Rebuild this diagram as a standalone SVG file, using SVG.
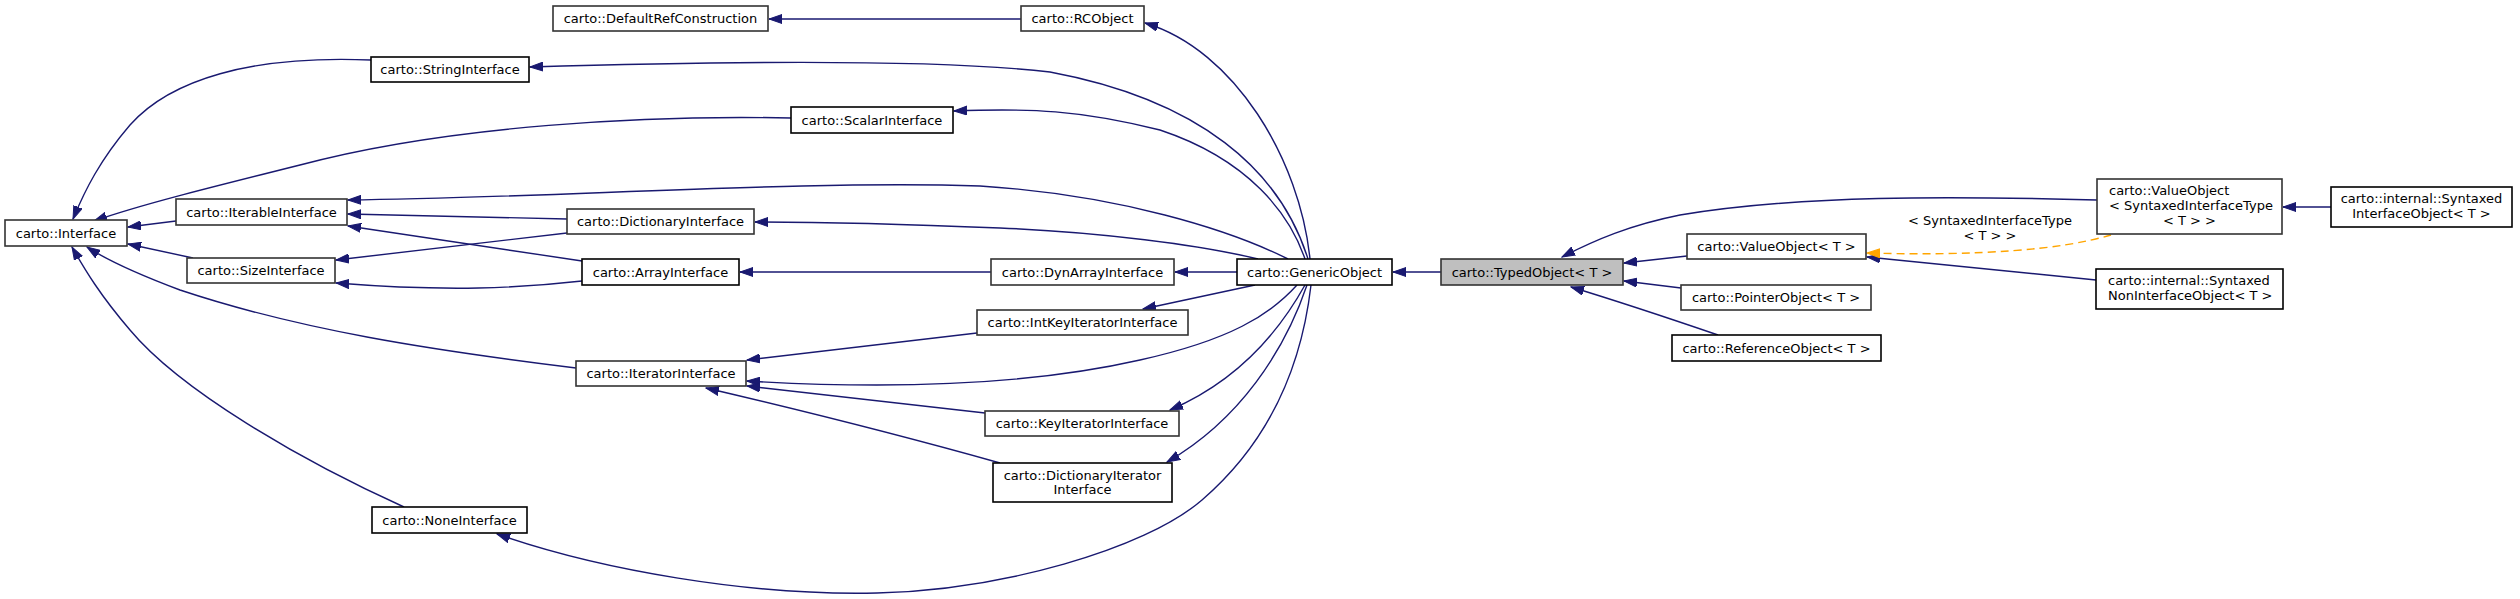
<svg xmlns="http://www.w3.org/2000/svg" width="2520" height="599" viewBox="0 0 2520 599">
<style>
text{font-family:"DejaVu Sans","Liberation Sans",sans-serif;font-size:13px;fill:#000;text-anchor:middle}
text.l{text-anchor:start}
.node rect{fill:#fff;stroke:#000;stroke-width:1.6}
.node.g rect{stroke:#333}
#TypedObject rect{fill:#bfbfbf;stroke:#333}
.edges path{fill:none;stroke:#191970;stroke-width:1.4;marker-end:url(#arr)}
.edges path.tmpl{stroke:#ffa500;stroke-dasharray:8,5;marker-end:url(#arro)}
.lbl{font-size:13px}
</style>
<defs>
<marker id="arr" markerUnits="userSpaceOnUse" markerWidth="14" markerHeight="10" viewBox="0 0 14 10" refX="13" refY="5" orient="auto">
<path d="M0,0.5 L13,5 L0,9.5 z" fill="#191970" stroke="#191970"/>
</marker>
<marker id="arro" markerUnits="userSpaceOnUse" markerWidth="14" markerHeight="10" viewBox="0 0 14 10" refX="13" refY="5" orient="auto">
<path d="M0,0.5 L13,5 L0,9.5 z" fill="#ffa500" stroke="#ffa500"/>
</marker>
</defs>
<rect width="2520" height="599" fill="#fff"/>
<g class="edges">
<path d="M1021,19 H769"/>
<path d="M1310,259 C1300,160 1235,50 1145,23"/>
<path d="M1308,259 C1280,170 1200,100 1050,72 C930,58 700,62 530,67"/>
<path d="M1305,259 C1290,215 1250,160 1160,130 C1080,110 1030,108 954,111"/>
<path d="M1288,259 C1230,230 1120,195 980,186 C800,180 550,198 348,200"/>
<path d="M1258,259 C1200,245 1100,232 1000,228 C900,224 820,222 755,222"/>
<path d="M1237,272 H1175"/>
<path d="M1441,272 H1393"/>
<path d="M1255,285 L1143,309"/>
<path d="M1297,285 C1270,315 1230,340 1140,360 C1030,385 900,390 747,381"/>
<path d="M1305,285 C1280,330 1240,380 1170,410"/>
<path d="M1307,285 C1285,350 1240,420 1167,462"/>
<path d="M1311,285 C1300,380 1260,450 1202,500 C1144,550 1000,590 877,593 C750,596 600,570 497,534"/>
<path d="M371,60 C250,55 170,80 130,125 C100,160 85,190 73,219"/>
<path d="M791,118 C650,115 450,125 300,165 C200,190 140,205 94,221"/>
<path d="M176,221 L128,227"/>
<path d="M193,258 L128,244"/>
<path d="M576,368 C430,350 300,330 180,290 C140,275 110,262 87,247"/>
<path d="M404,507 C300,460 180,390 130,330 C100,295 85,270 72,247"/>
<path d="M567,219 L348,214"/>
<path d="M567,233 L336,260"/>
<path d="M582,261 L348,226"/>
<path d="M582,281 C520,288 450,292 336,283"/>
<path d="M991,272 H740"/>
<path d="M977,333 L747,360"/>
<path d="M985,413 L747,386"/>
<path d="M1000,463 C900,435 800,410 706,388"/>
<path d="M1687,256 L1624,263"/>
<path d="M1681,288 L1624,281"/>
<path d="M1718,335 C1680,322 1630,305 1571,287"/>
<path d="M2097,200 C1950,196 1800,195 1680,215 C1630,225 1595,240 1562,257"/>
<path d="M2331,207 H2283"/>
<path d="M2096,280 L1867,257"/>
<path class="tmpl" d="M2111,235 C2060,250 1980,256 1867,253"/>
<text class="lbl" x="1990" y="225">&lt; SyntaxedInterfaceType</text>
<text class="lbl" x="1990" y="240">&lt; T &gt; &gt;</text>
</g>
<g id="DefaultRefConstruction" class="node g"><rect x="553" y="6" width="215" height="25"/><text x="660.5" y="23">carto::DefaultRefConstruction</text></g>
<g id="RCObject" class="node g"><rect x="1021" y="6" width="123" height="25"/><text x="1082.5" y="23">carto::RCObject</text></g>
<g id="StringInterface" class="node"><rect x="371" y="57" width="158" height="25"/><text x="450" y="74">carto::StringInterface</text></g>
<g id="ScalarInterface" class="node"><rect x="791" y="107" width="162" height="26"/><text x="872" y="124.5">carto::ScalarInterface</text></g>
<g id="IterableInterface" class="node g"><rect x="176" y="199" width="171" height="26"/><text x="261.5" y="216.5">carto::IterableInterface</text></g>
<g id="Interface" class="node g"><rect x="5" y="220" width="122" height="26"/><text x="66" y="237.5">carto::Interface</text></g>
<g id="SizeInterface" class="node g"><rect x="187" y="258" width="148" height="25"/><text x="261" y="275">carto::SizeInterface</text></g>
<g id="DictionaryInterface" class="node g"><rect x="567" y="209" width="187" height="25"/><text x="660.5" y="226">carto::DictionaryInterface</text></g>
<g id="ArrayInterface" class="node"><rect x="582" y="259" width="157" height="26"/><text x="660.5" y="276.5">carto::ArrayInterface</text></g>
<g id="DynArrayInterface" class="node g"><rect x="991" y="259" width="183" height="26"/><text x="1082.5" y="276.5">carto::DynArrayInterface</text></g>
<g id="GenericObject" class="node"><rect x="1237" y="259" width="155" height="26"/><text x="1314.5" y="276.5">carto::GenericObject</text></g>
<g id="TypedObject" class="node g"><rect x="1441" y="259" width="182" height="26"/><text x="1532" y="276.5">carto::TypedObject&lt; T &gt;</text></g>
<g id="IntKeyIteratorInterface" class="node g"><rect x="977" y="310" width="211" height="25"/><text x="1082.5" y="327">carto::IntKeyIteratorInterface</text></g>
<g id="IteratorInterface" class="node g"><rect x="576" y="361" width="170" height="25"/><text x="661" y="378">carto::IteratorInterface</text></g>
<g id="KeyIteratorInterface" class="node g"><rect x="985" y="411" width="194" height="25"/><text x="1082" y="428">carto::KeyIteratorInterface</text></g>
<g id="DictionaryIteratorInterface" class="node"><rect x="993" y="463" width="179" height="39"/><text x="1082.5" y="480">carto::DictionaryIterator</text><text x="1082.5" y="494">Interface</text></g>
<g id="NoneInterface" class="node"><rect x="372" y="507" width="155" height="26"/><text x="449.5" y="524.5">carto::NoneInterface</text></g>
<g id="ValueObjectT" class="node g"><rect x="1687" y="234" width="179" height="25"/><text x="1776.5" y="251">carto::ValueObject&lt; T &gt;</text></g>
<g id="PointerObject" class="node g"><rect x="1681" y="285" width="190" height="25"/><text x="1776" y="302">carto::PointerObject&lt; T &gt;</text></g>
<g id="ReferenceObject" class="node"><rect x="1672" y="335" width="209" height="26"/><text x="1776.5" y="352.5">carto::ReferenceObject&lt; T &gt;</text></g>
<g id="ValueObjectSyntaxed" class="node g"><rect x="2097" y="179" width="185" height="55"/><text class="l" x="2109" y="195">carto::ValueObject</text><text class="l" x="2109" y="210">&lt; SyntaxedInterfaceType</text><text x="2189.5" y="225">&lt; T &gt; &gt;</text></g>
<g id="SyntaxedInterfaceObject" class="node"><rect x="2331" y="187" width="181" height="40"/><text x="2421.5" y="203">carto::internal::Syntaxed</text><text x="2421.5" y="218">InterfaceObject&lt; T &gt;</text></g>
<g id="SyntaxedNonInterfaceObject" class="node"><rect x="2096" y="269" width="187" height="40"/><text class="l" x="2108" y="285">carto::internal::Syntaxed</text><text class="l" x="2108" y="300">NonInterfaceObject&lt; T &gt;</text></g>
</svg>
